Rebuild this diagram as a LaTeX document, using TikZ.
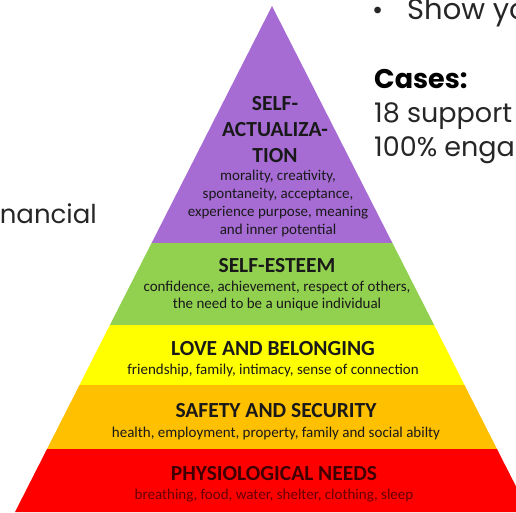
\documentclass[tikz,border=0pt]{standalone}
\usepackage{fontspec}
\setmainfont{Carlito}
\newfontfamily\popfont{Poppins}
\definecolor{lvPurple}{RGB}{166,108,212}
\definecolor{lvGreen}{RGB}{146,208,80}
\definecolor{lvYellow}{RGB}{255,255,0}
\definecolor{lvOrange}{RGB}{255,192,0}
\definecolor{lvRed}{RGB}{255,0,0}
\definecolor{txtDark}{RGB}{25,25,25}
\tikzset{
  head/.style={anchor=base,inner sep=0pt,text=txtDark,font=\fontsize{21.5}{26}\selectfont\bfseries},
  sub/.style={anchor=base,inner sep=0pt,text=txtDark,font=\fontsize{15}{18}\selectfont},
  bg/.style={anchor=base west,inner sep=0pt,text=black!85,font=\popfont\fontsize{27}{34}\selectfont},
}
\begin{document}
\begin{tikzpicture}[x=1pt,y=-1pt]
\useasboundingbox (0,0) rectangle (516,512);
\clip (0,0) rectangle (516,512);
% background slide text
\node[bg] (bullet) at (372,19) {•};
\node[bg,font=\popfont\fontsize{29}{34}\selectfont] (show) at (407,19) {Show yo};
\node[bg,font=\popfont\bfseries\fontsize{27}{34}\selectfont,text=black] (cases) at (374,88) {Cases:};
\node[bg] (supp) at (374,122) {18 support};
\node[bg] (eng) at (374,156) {100\% enga};
\node[bg,anchor=base east,font=\popfont\fontsize{26}{30}\selectfont] (fin) at (97,223) {nancial};
% pyramid layers
\fill[lvPurple] (272,6) -- (392.4,243) -- (151.6,243) -- cycle;
\fill[lvGreen] (151.6,243) -- (392.4,243) -- (434.1,325) -- (109.9,325) -- cycle;
\fill[lvYellow] (109.9,325) -- (434.1,325) -- (464.5,385) -- (79.5,385) -- cycle;
\fill[lvOrange] (79.5,385) -- (464.5,385) -- (497,449) -- (47,449) -- cycle;
\fill[lvRed] (47,449) -- (497,449) -- (529,512) -- (15,512) -- cycle;
% texts
\node[head] (sa1) at (275,110) {SELF-};
\node[head] (sa2) at (275,136) {ACTUALIZA-};
\node[head] (sa3) at (275,162) {TION};
\node[sub] (sa4) at (278,180) {morality, creativity,};
\node[sub] (sa5) at (278,198) {spontaneity, acceptance,};
\node[sub] (sa6) at (278,216) {experience purpose, meaning};
\node[sub] (sa7) at (278,234) {and inner potential};
\node[head] (se1) at (277,272) {SELF-ESTEEM};
\node[sub] (se2) at (277,291) {confidence, achievement, respect of others,};
\node[sub] (se3) at (277,308) {the need to be a unique individual};
\node[head] (lb1) at (273,355) {LOVE AND BELONGING};
\node[sub] (lb2) at (273,374) {friendship, family, intimacy, sense of connection};
\node[head] (ss1) at (276,417) {SAFETY AND SECURITY};
\node[sub] (ss2) at (276,437) {health, employment, property, family and social abilty};
\node[head,text=red!25!black] (pn1) at (274,480) {PHYSIOLOGICAL NEEDS};
\node[sub,text=red!40!black] (pn2) at (274,499) {breathing, food, water, shelter, clothing, sleep};
\end{tikzpicture}
\end{document}
